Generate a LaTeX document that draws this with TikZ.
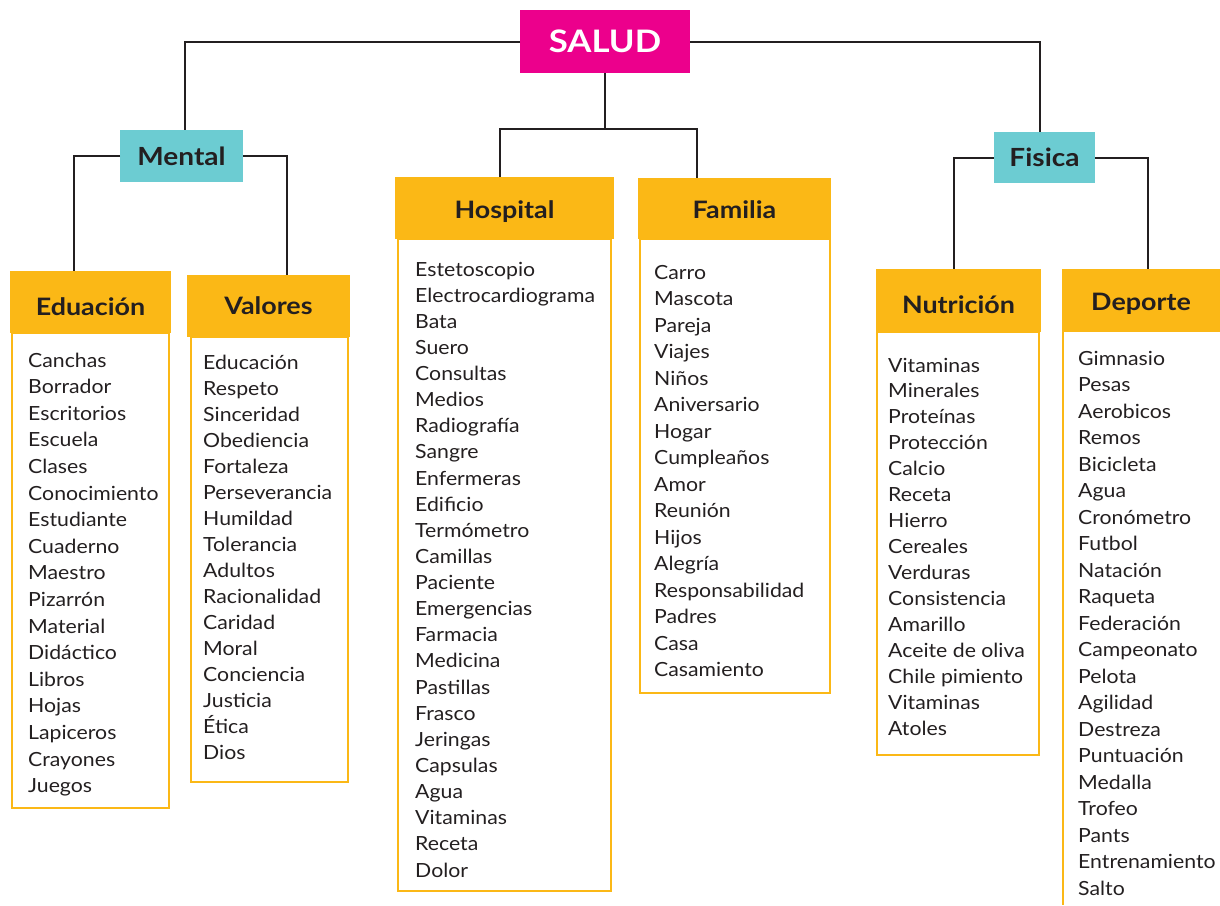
\documentclass[tikz,border=0pt]{standalone}
\usepackage{fontspec}
\setmainfont{Lato}[FakeStretch=1.09]
\newfontfamily\widefont{Lato}[FakeStretch=1.12]
\definecolor{mag}{RGB}{236,0,140}
\definecolor{tealbox}{RGB}{108,204,210}
\definecolor{orng}{RGB}{251,184,22}
\definecolor{ink}{RGB}{35,31,32}
\begin{document}
\begin{tikzpicture}[x=1pt,y=-1pt,
  conn/.style={draw=ink, line width=2pt},
  boxbase/.style={inner sep=0pt, outer sep=0pt, anchor=north west, text=ink},
  rootbox/.style={boxbase, fill=mag, text=white, font=\widefont\fontsize{31}{36}\selectfont\bfseries, text height=22pt, text depth=0pt},
  midbox/.style={boxbase, fill=tealbox, font=\widefont\fontsize{25}{30}\selectfont\bfseries, text height=18pt, text depth=0pt},
  hdr/.style={boxbase, fill=orng, font=\widefont\fontsize{24}{28}\selectfont\bfseries, text height=17pt, text depth=0pt},
  listbox/.style={boxbase, draw=orng, line width=2pt},
  item/.style={anchor=base west, inner sep=0pt, text=ink, font=\fontsize{19.5}{22}\selectfont}
]
\useasboundingbox (0,0) rectangle (1220,905);

% list frames
\node[listbox, minimum width=157pt, minimum height=475pt] (eduL) at (12,333) {};
\node[listbox, minimum width=157pt, minimum height=445pt] (valL) at (191,337) {};
\node[listbox, minimum width=213pt, minimum height=652pt] (hosL) at (398,239) {};
\node[listbox, minimum width=190pt, minimum height=454pt] (famL) at (640,239) {};
\node[listbox, minimum width=162pt, minimum height=423pt] (nutL) at (877,332) {};

% headers
\node[rootbox, minimum width=170pt, minimum height=63pt] (salud) at (520,10) {SALUD};
\node[midbox, minimum width=123pt, minimum height=52pt] (mental) at (120,130) {Mental};
\node[midbox, minimum width=101pt, minimum height=51pt] (fisica) at (994,132) {Fisica};
\node[hdr, minimum width=161pt, minimum height=62pt, text height=27pt] (eduH) at (10,271) {Eduación};
\node[hdr, minimum width=163pt, minimum height=62pt] (valH) at (187,275) {Valores};
\node[hdr, minimum width=219pt, minimum height=62pt, text height=20pt] (hosH) at (395,177) {Hospital};
\node[hdr, minimum width=193pt, minimum height=61pt, text height=19pt] (famH) at (638,178) {Familia};
\node[hdr, minimum width=165pt, minimum height=63pt, text height=25pt] (nutH) at (876,269) {Nutrición};
\node[hdr, minimum width=158pt, minimum height=63pt, text height=19pt] (depH) at (1062,269) {Deporte};

% Deporte frame (cut by the page edge)
\coordinate (depB) at (1063,905);
\draw[draw=orng, line width=2pt] ([xshift=1pt]depH.south west) -- (depB);

% connectors
\coordinate (hub) at (605,129);
\draw[conn] (salud.west) -| ([xshift=3.5pt]mental.north);
\draw[conn] (salud.east) -| ([xshift=-4.5pt]fisica.north);
\draw[conn] (salud.south) -- (hub);
\draw[conn] ([xshift=-4.5pt]hosH.north) |- (hub) -| ([xshift=-37.5pt]famH.north);
\draw[conn] (mental.west) -| ([xshift=-16.5pt]eduH.north);
\draw[conn] (mental.east) -| ([xshift=18.5pt]valH.north);
\draw[conn] (fisica.west) -| ([xshift=-4.5pt]nutH.north);
\draw[conn] (fisica.east) -| ([xshift=7pt]depH.north);

% items
\foreach \t [count=\i] in {Canchas,Borrador,Escritorios,Escuela,Clases,Conocimiento,Estudiante,Cuaderno,Maestro,Pizarrón,Material,Didáctico,Libros,Hojas,Lapiceros,Crayones,Juegos}
  \node[item] (edu\i) at (28,{367+26.6*(\i-1)}) {\t};
\foreach \t [count=\i] in {Educación,Respeto,Sinceridad,Obediencia,Fortaleza,Perseverancia,Humildad,Tolerancia,Adultos,Racionalidad,Caridad,Moral,Conciencia,Justicia,Ética,Dios}
  \node[item] (val\i) at (203,{369+26*(\i-1)}) {\t};
\foreach \t [count=\i] in {Estetoscopio,Electrocardiograma,Bata,Suero,Consultas,Medios,Radiografía,Sangre,Enfermeras,Edificio,Termómetro,Camillas,Paciente,Emergencias,Farmacia,Medicina,Pastillas,Frasco,Jeringas,Capsulas,Agua,Vitaminas,Receta,Dolor}
  \node[item] (hos\i) at (415,{276+26.13*(\i-1)}) {\t};
\foreach \t [count=\i] in {Carro,Mascota,Pareja,Viajes,Niños,Aniversario,Hogar,Cumpleaños,Amor,Reunión,Hijos,Alegría,Responsabilidad,Padres,Casa,Casamiento}
  \node[item] (fam\i) at (654,{279+26.53*(\i-1)}) {\t};
\foreach \t [count=\i] in {Vitaminas,Minerales,Proteínas,Protección,Calcio,Receta,Hierro,Cereales,Verduras,Consistencia,Amarillo,Aceite de oliva,Chile pimiento,Vitaminas,Atoles}
  \node[item] (nut\i) at (888,{372+25.93*(\i-1)}) {\t};
\foreach \t [count=\i] in {Gimnasio,Pesas,Aerobicos,Remos,Bicicleta,Agua,Cronómetro,Futbol,Natación,Raqueta,Federación,Campeonato,Pelota,Agilidad,Destreza,Puntuación,Medalla,Trofeo,Pants,Entrenamiento,Salto}
  \node[item] (dep\i) at (1078,{365+26.5*(\i-1)}) {\t};
\end{tikzpicture}
\end{document}
